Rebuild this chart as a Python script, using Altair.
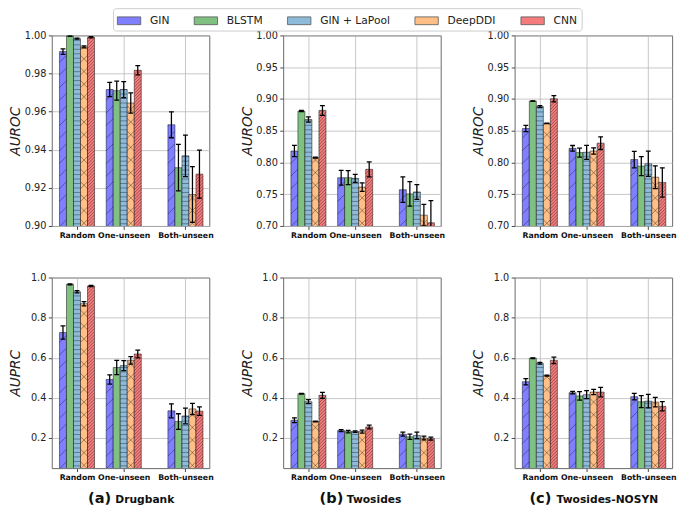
import json
import altair as alt
import pandas as pd

# ---------------- data ----------------
models = ["GIN", "BLSTM", "GIN + LaPool", "DeepDDI", "CNN"]
colors = ["#7f7fff", "#80c080", "#8fbbda", "#ffbf87", "#f47c7c"]
splits = ["Random", "One-unseen", "Both-unseen"]
split_pos = [0, 1, 2.32]

captions = ["(a)", "(b)", "(c)"]
dataset_names = ["Drugbank", "Twosides", "Twosides-NOSYN"]

# rows = split (Random, One-unseen, Both-unseen), cols = model order above
drugbank_auroc = [[0.9915, 0.9997, 0.9983, 0.9940, 0.9990],
                  [0.9716, 0.9710, 0.9716, 0.9645, 0.9817],
                  [0.9531, 0.9306, 0.9368, 0.9165, 0.9272]]
drugbank_auroc_err = [[0.0014, 0.0002, 0.0003, 0.0005, 0.0003],
                      [0.0037, 0.0050, 0.0042, 0.0053, 0.0024],
                      [0.0068, 0.0122, 0.0109, 0.0146, 0.0126]]
twosides_auroc = [[0.818, 0.8809, 0.8676, 0.8075, 0.8819],
                  [0.776, 0.776, 0.775, 0.7612, 0.7892],
                  [0.7571, 0.7505, 0.7536, 0.717, 0.705]]
twosides_auroc_err = [[0.0089, 0.001, 0.004, 0.0008, 0.0076],
                      [0.0115, 0.011, 0.0064, 0.0066, 0.0117],
                      [0.0201, 0.0194, 0.0117, 0.017, 0.035]]
nosyn_auroc = [[0.8534, 0.8966, 0.888, 0.8615, 0.9002],
               [0.8222, 0.8155, 0.816, 0.818, 0.8304],
               [0.8046, 0.7943, 0.798, 0.7768, 0.7686]]
nosyn_auroc_err = [[0.0048, 0.0005, 0.0015, 0.0005, 0.005],
                   [0.0045, 0.007, 0.011, 0.005, 0.01],
                   [0.013, 0.015, 0.02, 0.018, 0.023]]
drugbank_auprc = [[0.7258, 0.966, 0.929, 0.8694, 0.958],
                  [0.492, 0.5516, 0.561, 0.587, 0.619],
                  [0.3355, 0.282, 0.31, 0.345, 0.334]]
drugbank_auprc_err = [[0.033, 0.002, 0.006, 0.011, 0.003],
                      [0.023, 0.036, 0.025, 0.019, 0.019],
                      [0.035, 0.039, 0.039, 0.028, 0.021]]
twosides_auprc = [[0.2887, 0.421, 0.381, 0.282, 0.413],
                  [0.237, 0.232, 0.232, 0.232, 0.255],
                  [0.219, 0.206, 0.213, 0.2, 0.197]]
twosides_auprc_err = [[0.012, 0.002, 0.01, 0.002, 0.015],
                      [0.005, 0.006, 0.004, 0.007, 0.009],
                      [0.01, 0.013, 0.016, 0.009, 0.007]]
nosyn_auprc = [[0.4806, 0.598, 0.5726, 0.511, 0.587],
               [0.426, 0.41, 0.416, 0.429, 0.429],
               [0.406, 0.381, 0.384, 0.379, 0.358]]
nosyn_auprc_err = [[0.016, 0.002, 0.004, 0.002, 0.016],
                   [0.006, 0.021, 0.02, 0.013, 0.024],
                   [0.016, 0.03, 0.034, 0.024, 0.023]]

auroc_ticks_a = [0.90, 0.92, 0.94, 0.96, 0.98, 1.00]
auroc_ticks_bc = [0.70, 0.75, 0.80, 0.85, 0.90, 0.95, 1.00]
auprc_ticks = [0.2, 0.4, 0.6, 0.8, 1.0]

# ---------------- style / layout ----------------
FONT = "DejaVu Sans"
W = 162
H_TOP, H_BOTTOM = 196, 196
X_DOMAIN = [-0.54, 2.83]
BAR_W = 0.15
# hatch per model (kind, spacing in px)
HATCH = [[("up", 13)], [], [("h", 4.6)], [("up", 13), ("down", 13)], [("up", 3.3)]]


def make_df(means, errs):
    rows = []
    for si, split in enumerate(splits):
        for mi, m in enumerate(models):
            c = split_pos[si] + (mi - 2) * BAR_W
            v = means[si][mi]
            e = errs[si][mi]
            rows.append(dict(split=split, model=m, order=mi, xc=c,
                             x0=c - BAR_W / 2, x1=c + BAR_W / 2,
                             v=v, lo=v - e, hi=v + e))
    return pd.DataFrame(rows)


def hatch_df(df, ydom, h):
    pxx = W / (X_DOMAIN[1] - X_DOMAIN[0])
    pxy = h / (ydom[1] - ydom[0])
    w = BAR_W * pxx
    segs = []
    for _, r in df.iterrows():
        top = min(r.v, ydom[1])
        hp = (top - ydom[0]) * pxy
        if hp <= 0:
            continue
        for kind, s in HATCH[int(r.order)]:
            local = []
            if kind == "up":
                c = -w + s / 2
                while c < hp:
                    xa, xb = max(0, -c), min(w, hp - c)
                    if xb > xa:
                        local.append((xa, xa + c, xb, xb + c))
                    c += s
            elif kind == "down":
                c = s / 2
                while c < hp + w:
                    xa, xb = max(0, c - hp), min(w, c)
                    if xb > xa:
                        local.append((xa, c - xa, xb, c - xb))
                    c += s
            elif kind == "h":
                c = s / 2
                while c < hp:
                    local.append((0, c, w, c))
                    c += s
            for (xa, ya, xb, yb) in local:
                segs.append(dict(model=r.model,
                                 xa=r.x0 + xa / pxx, xb=r.x0 + xb / pxx,
                                 ya=ydom[0] + ya / pxy, yb=ydom[0] + yb / pxy))
    return pd.DataFrame(segs)


label_expr = f"{json.dumps(splits)}[indexof({json.dumps(split_pos)}, datum.value)]"

legend = alt.Legend(
    title=None, orient="none", legendX=63, legendY=-28, offset=0,
    direction="horizontal", columns=5,
    symbolType="M-1,-0.5H2V0.5H-1Z", symbolSize=256,
    symbolStrokeColor="#555", symbolStrokeWidth=0.8, symbolOpacity=1,
    labelFont=FONT, labelFontSize=11, labelColor="#222", labelOffset=17,
    columnPadding=23, padding=4, fillColor="white",
    strokeColor="#cccccc", cornerRadius=3,
)


def panel(means, errs, ydom, yticks, yfmt, ytitle, h, cap_idx=None):
    df = make_df(means, errs)
    hd = hatch_df(df, ydom, h)
    xscale = alt.Scale(domain=X_DOMAIN, nice=False, zero=False)
    yscale = alt.Scale(domain=ydom, nice=False, zero=False)
    xaxis = alt.Axis(values=split_pos, labelExpr=label_expr, title=None,
                     grid=True, labelFontWeight="bold", labelFontSize=8,
                     labelFont=FONT, labelColor="#111", tickSize=3.5,
                     labelPadding=2, domain=False, tickColor="#444",
                     minExtent=14, maxExtent=14, labelOverlap=False,
                     labelFlush=False)
    yaxis = alt.Axis(values=yticks, format=yfmt, title=ytitle, grid=True,
                     labelFontSize=10, labelFont=FONT, labelColor="#222",
                     tickSize=3.5, labelPadding=2.5, domain=False,
                     tickColor="#444", minExtent=28, maxExtent=28,
                     titleFont=FONT, titleFontSize=14, titleFontStyle="italic",
                     titleFontWeight="normal", titleColor="#222",
                     titlePadding=2, labelFlush=False)

    def X(f):
        return alt.X(f, type="quantitative", scale=xscale, axis=xaxis, title=None)

    def Y(f):
        return alt.Y(f, type="quantitative", scale=yscale, axis=yaxis, title=ytitle)

    base = alt.Chart(df)
    bars = base.mark_bar(clip=True, stroke="black", strokeOpacity=0.6,
                         strokeWidth=0.8).encode(
        x=X("x0"), x2="x1:Q", y=Y("v"), y2=alt.datum(0),
        color=alt.Color("model:N", scale=alt.Scale(domain=models, range=colors),
                        legend=legend),
    )
    hatch = alt.Chart(hd).mark_rule(clip=True, color="black", opacity=0.4,
                                    strokeWidth=0.9).encode(
        x=X("xa"), x2="xb:Q", y=Y("ya"), y2="yb:Q")
    err = base.mark_rule(clip=True, color="black", strokeWidth=1.3).encode(
        x=X("xc"), y=Y("lo"), y2="hi:Q")
    cap_hi = base.mark_tick(clip=True, orient="horizontal", color="black",
                            size=5, thickness=1.3, opacity=1).encode(
        x=X("xc"), y=Y("hi"))
    cap_lo = base.mark_tick(clip=True, orient="horizontal", color="black",
                            size=5, thickness=1.3, opacity=1).encode(
        x=X("xc"), y=Y("lo"))
    layers = [bars, hatch, err, cap_hi, cap_lo]
    if cap_idx is not None:
        letter = captions[cap_idx]
        name = dataset_names[cap_idx]
        letter_w, gap, name_w = 24, 4, len(name) * 7.4
        start = W / 2 - (letter_w + gap + name_w) / 2
        cdf = pd.DataFrame({"letter": [letter], "name": [name]})
        t1 = alt.Chart(cdf).mark_text(align="left", baseline="alphabetic",
                                      font=FONT, fontSize=15, fontWeight="bold",
                                      color="#111").encode(
            text="letter:N", x=alt.value(start), y=alt.value(h + 36))
        t2 = alt.Chart(cdf).mark_text(align="left", baseline="alphabetic",
                                      font=FONT, fontSize=11, fontWeight="bold",
                                      color="#111").encode(
            text="name:N", x=alt.value(start + letter_w + gap), y=alt.value(h + 36))
        layers += [t1, t2]
    return alt.layer(*layers).properties(width=W, height=h)


top = alt.hconcat(
    panel(drugbank_auroc, drugbank_auroc_err, [0.90, 1.00], auroc_ticks_a, ".2f", "AUROC", H_TOP),
    panel(twosides_auroc, twosides_auroc_err, [0.70, 1.00], auroc_ticks_bc, ".2f", "AUROC", H_TOP),
    panel(nosyn_auroc, nosyn_auroc_err, [0.70, 1.00], auroc_ticks_bc, ".2f", "AUROC", H_TOP),
    spacing=26,
)
bottom = alt.hconcat(
    panel(drugbank_auprc, drugbank_auprc_err, [0.05, 1.0], auprc_ticks, ".1f", "AUPRC", H_BOTTOM, 0),
    panel(twosides_auprc, twosides_auprc_err, [0.05, 1.0], auprc_ticks, ".1f", "AUPRC", H_BOTTOM, 1),
    panel(nosyn_auprc, nosyn_auprc_err, [0.05, 1.0], auprc_ticks, ".1f", "AUPRC", H_BOTTOM, 2),
    spacing=26,
)

chart = alt.vconcat(top, bottom, spacing=32).properties(
    padding={"left": 0, "top": -8, "right": 0, "bottom": 0}, background="white"
).configure_view(
    stroke="#666", strokeWidth=1
).configure_axis(
    gridColor="#b8b8b8", gridWidth=0.8
)

chart.save("out.html", embed_options={"renderer": "svg", "actions": False})
